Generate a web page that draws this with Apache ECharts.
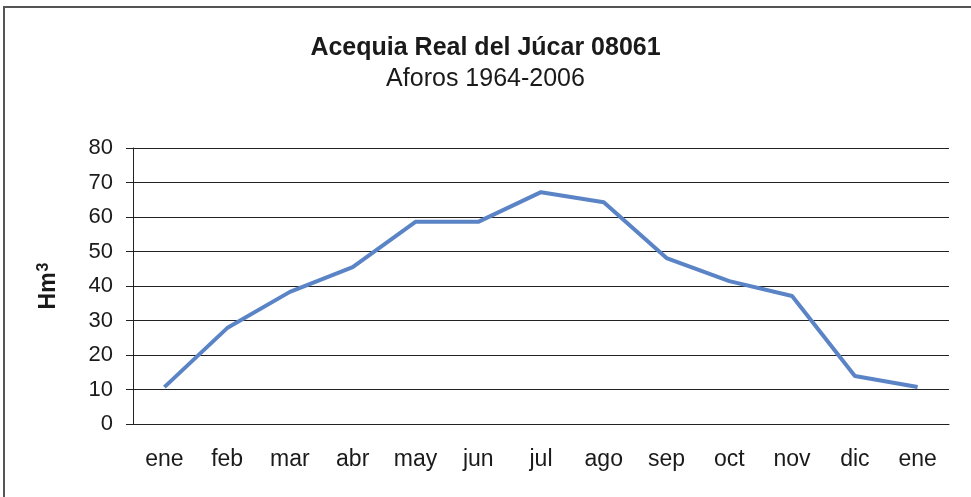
<!DOCTYPE html>
<html>
<head>
<meta charset="utf-8">
<script src="https://cdn.jsdelivr.net/npm/echarts@6/dist/echarts.min.js"></script>
<style>
  html, body { margin: 0; padding: 0; background: #fff; }
  #chart { width: 971px; height: 497px; }
</style>
</head>
<body>
<div id="chart"></div>
<script>
// meses (el ciclo vuelve a enero al final)
const months = ['ene', 'feb', 'mar', 'abr', 'may', 'jun', 'jul', 'ago', 'sep', 'oct', 'nov', 'dic', 'ene']
// aportación media mensual, Hm3
const flow = [10.7, 27.8, 38.3, 45.5, 58.6, 58.6, 67.2, 64.3, 48.1, 41.4, 37.1, 13.9, 10.7]
const yTicks = { min: 0, max: 80, interval: 10 }

const font = 'Liberation Sans, Arial, sans-serif'
const chart = echarts.init(document.getElementById('chart'))

chart.setOption({
  animation: false,
  textStyle: { fontFamily: font },
  title: {
    text: 'Acequia Real del Júcar 08061',
    subtext: 'Aforos 1964-2006',
    left: 'center',
    top: 31,
    itemGap: 6,
    textStyle: { fontFamily: font, fontSize: 25, fontWeight: 'bold', color: '#1a1a1a' },
    subtextStyle: { fontFamily: font, fontSize: 25, color: '#1a1a1a' }
  },
  // marco del gráfico
  graphic: [{
    type: 'rect',
    shape: { x: 4, y: 7, width: 990, height: 520 },
    style: { fill: 'none', stroke: '#555', lineWidth: 2 },
    silent: true
  }],
  grid: { left: 133, right: 22, top: 148, bottom: 73 },
  xAxis: {
    type: 'category',
    data: months,
    boundaryGap: true,
    axisLine: { lineStyle: { color: '#222', width: 1 } },
    axisTick: { length: 6, lineStyle: { color: '#222' } },
    axisLabel: { fontSize: 23, color: '#1a1a1a', margin: 24, fontFamily: font }
  },
  yAxis: {
    type: 'value',
    min: yTicks.min,
    max: yTicks.max,
    interval: yTicks.interval,
    name: '{b|Hm}{s|3}',
    nameLocation: 'middle',
    nameGap: 71,
    nameRotate: 90,
    nameTextStyle: {
      fontFamily: font,
      color: '#1a1a1a',
      rich: {
        b: { fontSize: 23, fontWeight: 'bold', fontFamily: font, color: '#1a1a1a' },
        s: { fontSize: 16, fontWeight: 'bold', fontFamily: font, color: '#1a1a1a', verticalAlign: 'top', padding: [0, 0, 10, 1] }
      }
    },
    axisLine: { show: true, lineStyle: { color: '#222', width: 1 } },
    axisTick: { show: true, length: 7, lineStyle: { color: '#222' } },
    axisLabel: { fontSize: 22, color: '#1a1a1a', margin: 20, fontFamily: font },
    splitLine: { lineStyle: { color: '#222', width: 1 } }
  },
  series: [{
    type: 'line',
    data: flow,
    symbol: 'none',
    lineStyle: { color: '#5b84c6', width: 4 }
  }]
})
</script>
</body>
</html>
